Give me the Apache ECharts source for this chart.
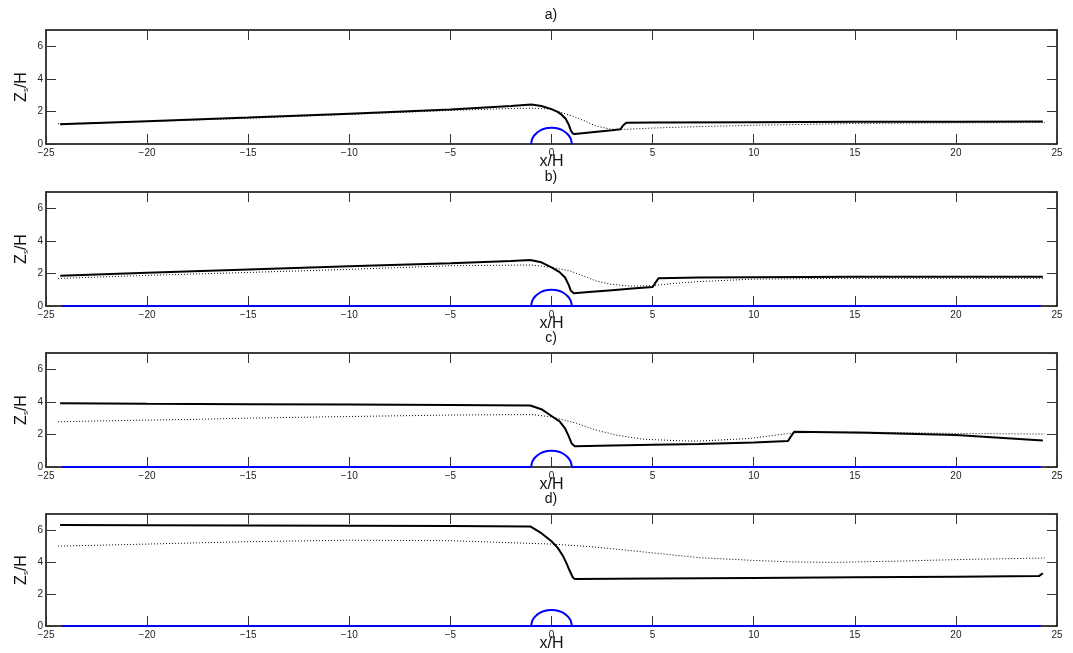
<!DOCTYPE html>
<html>
<head>
<meta charset="utf-8">
<script src="https://cdn.jsdelivr.net/npm/echarts@6/dist/echarts.min.js"></script>
<style>
html,body{margin:0;padding:0;background:#fff;}
#chart{width:1073px;height:653px;}
</style>
</head>
<body>
<div id="chart"></div>
<script>
// ---- tick labels / panel labels ----
const panelLabels = ['a)', 'b)', 'c)', 'd)'];
const xTicks = [-25, -20, -15, -10, -5, 0, 5, 10, 15, 20, 25];
const yTicks = [0, 2, 4, 6];

// ---- panel a ----
const solidA = [[-24.3,1.21],[-20,1.4],[-15,1.62],[-10,1.86],[-5,2.12],[-2,2.33],[-1,2.43],[-0.5,2.33],[0,2.14],[0.3,1.97],[0.5,1.8],[0.7,1.55],[0.85,1.2],[0.95,0.85],[1.05,0.64],[1.15,0.62],[2,0.72],[3,0.84],[3.4,0.9],[3.55,1.15],[3.7,1.3],[5,1.32],[10,1.34],[15,1.36],[20,1.37],[24.3,1.38]];
const dottedA = [[-24.4,1.25],[-20,1.38],[-15,1.58],[-10,1.82],[-5,2.06],[-2,2.18],[-1,2.2],[0,2.14],[0.6,1.89],[1,1.72],[1.6,1.44],[2.2,1.1],[2.9,0.92],[3.3,0.88],[4,0.92],[5,0.98],[7.3,1.07],[10,1.15],[15,1.26],[20,1.3],[24.4,1.32]];
// ---- panel b ----
const solidB = [[-24.3,1.85],[-20,2.04],[-15,2.24],[-10,2.44],[-5,2.62],[-2,2.76],[-1.05,2.82],[-0.5,2.68],[0,2.37],[0.4,2.08],[0.67,1.75],[0.85,1.3],[0.95,0.95],[1.1,0.78],[2,0.87],[3,0.97],[4,1.07],[5,1.17],[5.15,1.45],[5.3,1.71],[7.3,1.75],[10,1.77],[15,1.79],[20,1.8],[24.3,1.8]];
const dottedB = [[-24.4,1.69],[-20,1.88],[-15,2.06],[-10,2.25],[-5,2.47],[-1,2.52],[0,2.37],[0.9,2.16],[1.57,1.85],[2.2,1.54],[2.9,1.34],[3.9,1.22],[5,1.25],[6,1.38],[7.3,1.5],[10,1.65],[15,1.7],[20,1.7],[24.4,1.7]];
// ---- panel c ----
const solidC = [[-24.3,3.91],[-20,3.88],[-15,3.86],[-10,3.84],[-5,3.81],[-1.05,3.78],[-0.5,3.55],[0,3.13],[0.4,2.8],[0.67,2.37],[0.85,1.9],[1.0,1.44],[1.15,1.28],[3,1.32],[5,1.36],[7.3,1.41],[10,1.5],[11.7,1.59],[11.85,1.9],[12,2.16],[15.6,2.1],[20,1.96],[24.3,1.62]];
const dottedC = [[-24.4,2.78],[-20,2.88],[-17.4,2.93],[-15,3.0],[-10,3.1],[-5,3.19],[-1,3.22],[0,3.08],[1.25,2.68],[2.2,2.27],[3.2,1.96],[4.5,1.71],[6.5,1.6],[7.3,1.59],[9.8,1.75],[12,2.1],[15,2.15],[20,2.06],[24.4,2.02]];
// ---- panel d ----
const solidD = [[-24.3,6.32],[-20,6.3],[-15,6.28],[-10,6.26],[-5,6.25],[-1.05,6.22],[-0.5,5.8],[0,5.3],[0.3,4.9],[0.57,4.37],[0.75,3.9],[0.9,3.45],[1.05,3.05],[1.15,2.94],[5,2.97],[10,3.0],[15,3.04],[20,3.08],[24.1,3.12],[24.3,3.3]];
const dottedD = [[-24.4,4.99],[-20,5.12],[-17.4,5.2],[-15,5.27],[-10,5.36],[-5,5.33],[0,5.12],[2,4.95],[4,4.7],[7.3,4.27],[10,4.1],[12,4.0],[14,3.98],[17,4.05],[20,4.15],[24.4,4.25]];
// ---- obstacle (hill) and ground ----
const hill = [[-1,0],[-0.98,0.2],[-0.92,0.4],[-0.8,0.6],[-0.6,0.8],[-0.4,0.92],[-0.2,0.98],[0,1],[0.2,0.98],[0.4,0.92],[0.6,0.8],[0.8,0.6],[0.92,0.4],[0.98,0.2],[1,0]];
const groundFull = [[-24.2,0],[24.2,0]];
const groundGap = [[-24.2,0],[-1,0],[0,'-'],[1,0],[24.2,0]];

const solids = [solidA, solidB, solidC, solidD];
const dotteds = [dottedA, dottedB, dottedC, dottedD];
const grounds = [null, groundFull, groundGap, groundFull];

const tops = [30, 192, 353, 514];
const H = 114;
const FONT = 'Liberation Sans, Arial, Helvetica, sans-serif';
const minusFmt = v => String(v).replace('-', '\u2212');

const grid = [], xAxis = [], yAxis = [], series = [], graphic = [];
tops.forEach((t, i) => {
  grid.push({left: 46, right: 16, top: t, height: H});
  const lineStyle = {color: '#000', width: 1.5};
  const tick = {show: true, inside: true, length: 10, lineStyle: {color: '#333', width: 1}};
  xAxis.push({
    type: 'value', gridIndex: i, min: -25, max: 25, interval: 5, position: 'bottom',
    axisLine: {show: true, onZero: false, lineStyle},
    axisTick: tick,
    axisLabel: {fontSize: 10, color: '#222', fontFamily: FONT, margin: 4, formatter: minusFmt},
    splitLine: {show: false},
    name: 'x/H', nameLocation: 'middle', nameGap: 10, nameMoveOverlap: false,
    nameTextStyle: {fontSize: 16, color: '#111', fontFamily: FONT}
  });
  xAxis.push({
    type: 'value', gridIndex: i, min: -25, max: 25, interval: 5, position: 'top',
    axisLine: {show: true, onZero: false, lineStyle},
    axisTick: tick, axisLabel: {show: false}, splitLine: {show: false}
  });
  yAxis.push({
    type: 'value', gridIndex: i, min: 0, max: 7, interval: 2, position: 'left',
    axisLine: {show: true, onZero: false, lineStyle},
    axisTick: tick,
    axisLabel: {fontSize: 10, color: '#222', fontFamily: FONT, margin: 3, showMaxLabel: false,
      formatter: v => (yTicks.indexOf(v) >= 0 ? String(v) : '')},
    splitLine: {show: false},
    name: 'Z{s|s}/H', nameLocation: 'middle', nameGap: 16, nameRotate: 90, nameMoveOverlap: false,
    nameTextStyle: {fontSize: 16, color: '#111', fontFamily: FONT,
      rich: {s: {fontSize: 8, color: '#111', fontFamily: FONT, verticalAlign: 'bottom', padding: [8, 0, 0, 0]}}}
  });
  yAxis.push({
    type: 'value', gridIndex: i, min: 0, max: 7, interval: 2, position: 'right',
    axisLine: {show: true, onZero: false, lineStyle},
    axisTick: tick, axisLabel: {show: false}, splitLine: {show: false}
  });
  const xb = 2 * i, yl = 2 * i;
  if (grounds[i]) {
    series.push({type: 'line', xAxisIndex: xb, yAxisIndex: yl, data: grounds[i], symbol: 'none',
      connectNulls: false, lineStyle: {color: '#0000ff', width: 2}, z: 3, silent: true});
  }
  series.push({type: 'line', xAxisIndex: xb, yAxisIndex: yl, data: hill, symbol: 'none', smooth: 0.4,
    lineStyle: {color: '#0000ff', width: 2}, z: 3, silent: true});
  series.push({type: 'line', xAxisIndex: xb, yAxisIndex: yl, data: dotteds[i], symbol: 'none',
    lineStyle: {color: '#000', width: 1, type: [1, 2]}, z: 4, silent: true});
  series.push({type: 'line', xAxisIndex: xb, yAxisIndex: yl, data: solids[i], symbol: 'none',
    lineStyle: {color: '#000', width: 2}, z: 5, silent: true});
  graphic.push({type: 'text', x: 551, y: t - 15,
    style: {text: panelLabels[i], font: '14px ' + FONT, fill: '#111', align: 'center', verticalAlign: 'middle'}});
});

const chart = echarts.init(document.getElementById('chart'), null, {renderer: 'canvas'});
chart.setOption({animation: false, backgroundColor: '#fff', grid, xAxis, yAxis, series, graphic});
</script>
</body>
</html>
